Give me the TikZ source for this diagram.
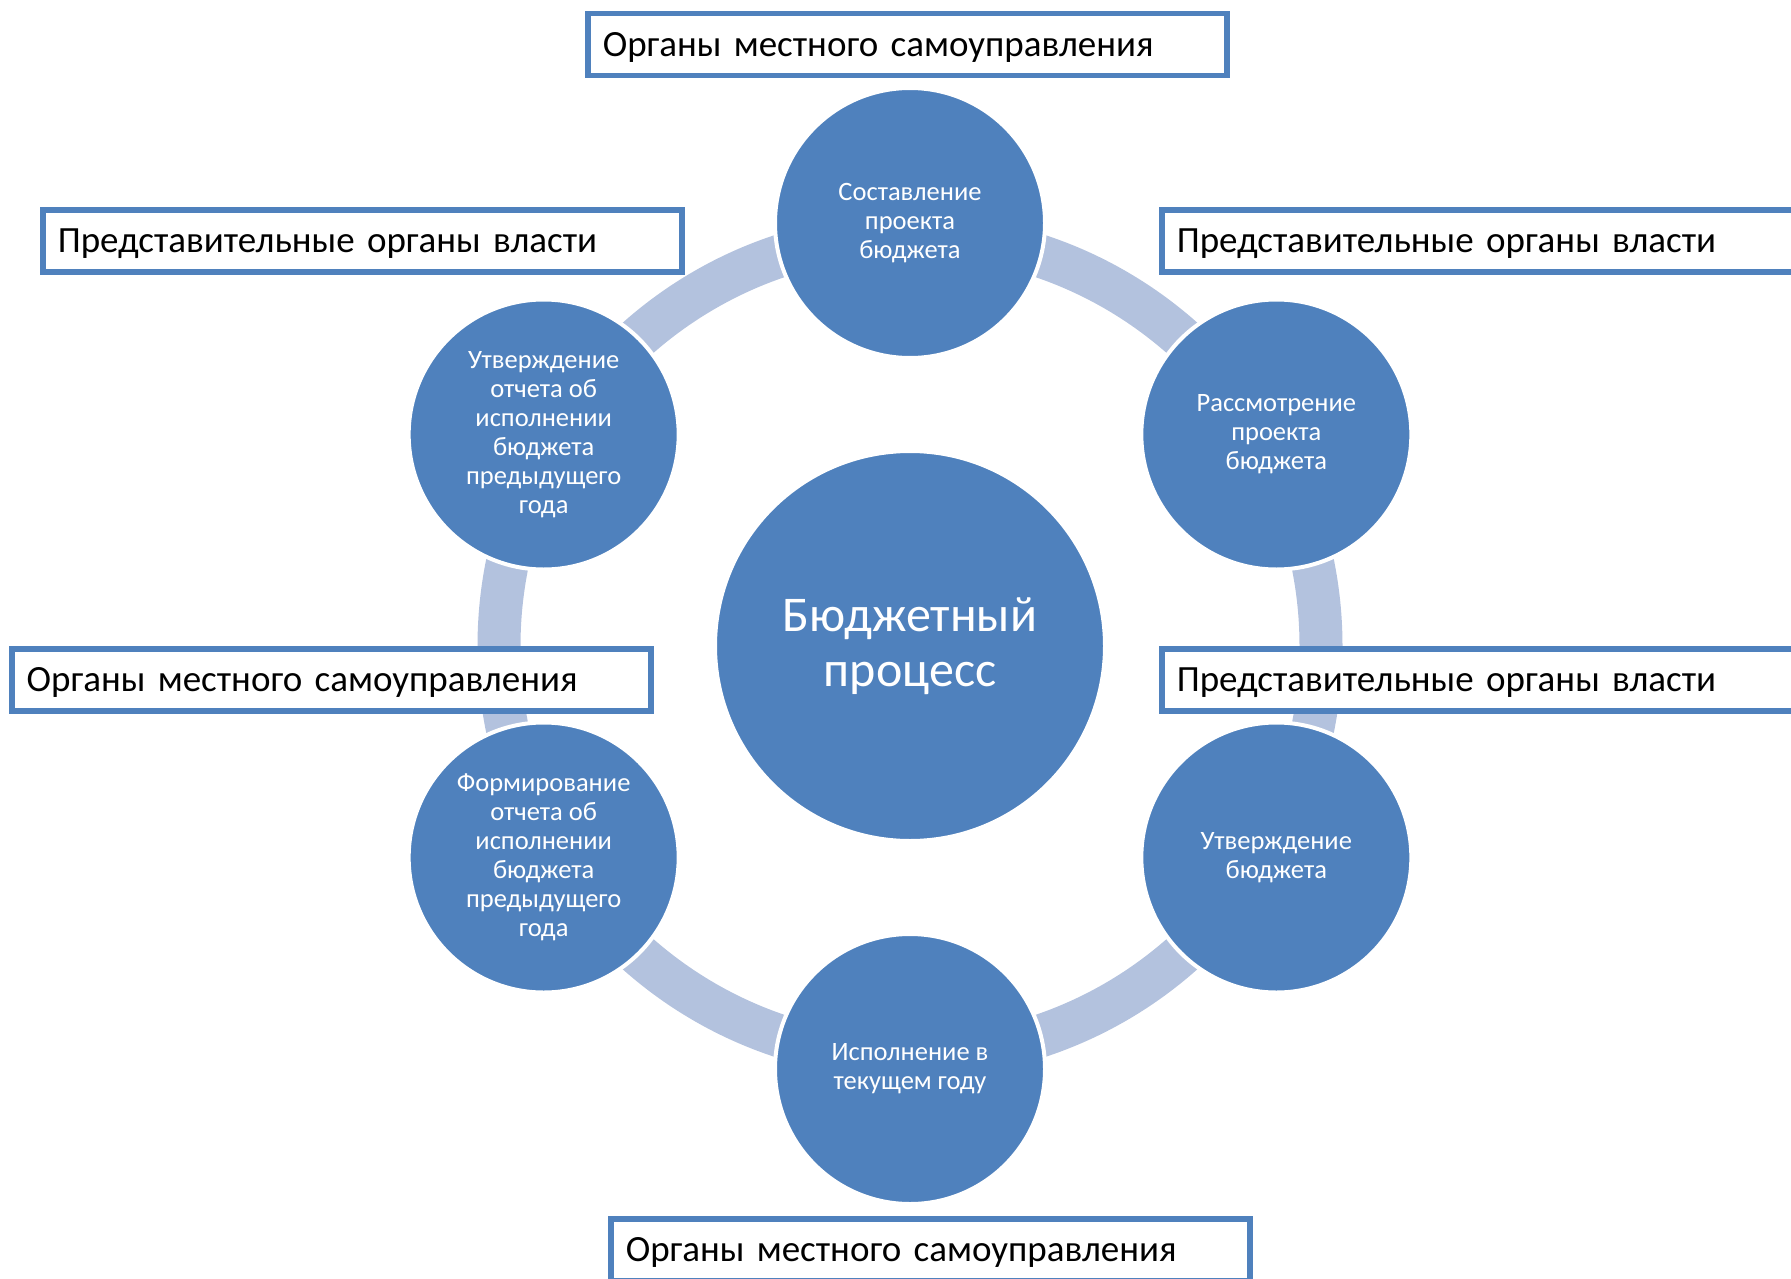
\documentclass[tikz,border=0pt]{standalone}
\usepackage{fontspec}
\setmainfont{Carlito}
\newfontfamily\rolefont{Carlito}[WordSpace=0.6]
\usepackage{tikz}
\usetikzlibrary{positioning}
\definecolor{procblue}{HTML}{4F81BD}
\definecolor{ringblue}{HTML}{B3C2DE}

\begin{document}
\begin{tikzpicture}[x=1pt, y=-1pt,
                stage/.style={circle, draw=white, line width=4pt, fill=procblue, text=white,
                              minimum size=270pt, inner sep=0pt, align=center,
                              font=\fontsize{26.5}{29}\selectfont},
                hub/.style={stage, minimum size=390pt, font=\fontsize{50}{55}\selectfont},
                ring/.style={draw=ringblue, line width=43pt},
                role/.style={draw=procblue, line width=5.5pt, fill=white, anchor=north west,
                             text width=609pt, inner xsep=15pt, inner ysep=0pt,
                             minimum height=62pt, text height=31pt, text depth=8pt, align=left,
                             font=\rolefont\fontsize{37}{40}\selectfont}]

                \useasboundingbox (0,0) rectangle (1791,1279);

                % Ring under the stages
                \coordinate (mid) at (910,646);
                \draw[ring] (mid) circle[radius=411pt];

                % Centre and the six stages of the cycle (y runs downwards here)
                \node[hub] (budget) at (mid) {Бюджетный\\процесс};
                \node[stage] (sostav) at ([shift={(-90:423)}]mid) {Составление\\проекта\\бюджета};
                \node[stage] (rassm) at ([shift={(-30:423)}]mid) {Рассмотрение\\проекта\\бюджета};
                \node[stage] (utv) at ([shift={(30:423)}]mid) {Утверждение\\бюджета};
                \node[stage] (ispoln) at ([shift={(90:423)}]mid) {Исполнение в\\текущем году};
                \node[stage] (formir) at ([shift={(150:423)}]mid) {Формирование\\отчета об\\исполнении\\бюджета\\предыдущего\\года};
                \node[stage] (otchet) at ([shift={(-150:423)}]mid) {Утверждение\\отчета об\\исполнении\\бюджета\\предыдущего\\года};

                % Who does each stage
                \node[role] (omsuTop) at (585,11) {Органы местного самоуправления};
                \node[role] (predRight) at (1159,207) {Представительные органы власти};
                \node[role] (predMid) at (1159,646) {Представительные органы власти};
                \node[role] (omsuBottom) at (608,1216) {Органы местного самоуправления};
                \node[role] (omsuLeft) at (9,646) {Органы местного самоуправления};
                \node[role] (predLeft) at (40,207) {Представительные органы власти};
            \end{tikzpicture}
\end{document}
